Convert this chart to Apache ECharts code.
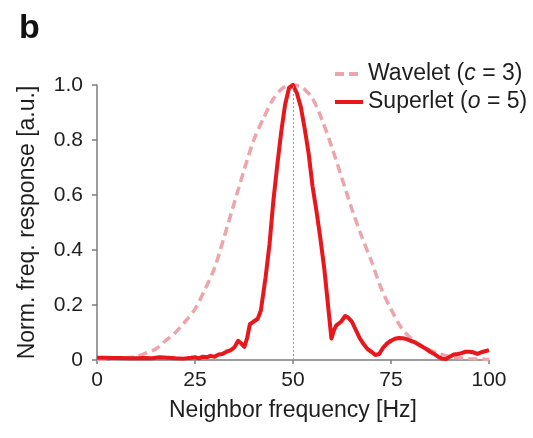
<!DOCTYPE html>
<html>
<head>
<meta charset="utf-8">
<script src="https://cdn.jsdelivr.net/npm/echarts@6/dist/echarts.min.js"></script>
<style>
  html, body { margin: 0; padding: 0; background: #fff; }
  #chart { width: 533px; height: 438px; }
</style>
</head>
<body>
<div id="chart"></div>
<script>
// Neighbor frequency (Hz) and normalised response of the wavelet (c = 3)
var waveletFreq = [0, 2.5, 5, 7.5, 10, 12.5, 15, 17.5, 20, 22.5, 25, 27.5, 30, 32.5, 35, 37.5, 40, 42.5, 45, 47.5,
                   50, 52.5, 55, 57.5, 60, 62.5, 65, 67.5, 70, 72.5, 75, 77.5, 80, 82.5, 85, 87.5, 90, 92.5, 95, 97.5, 100];
var waveletResp = [0.002, 0.003, 0.005, 0.008, 0.012, 0.025, 0.04, 0.07, 0.10, 0.14, 0.185, 0.255, 0.335, 0.45, 0.57, 0.69, 0.80, 0.88, 0.95, 0.99,
                   1.0, 0.99, 0.95, 0.87, 0.77, 0.66, 0.55, 0.45, 0.36, 0.26, 0.185, 0.12, 0.08, 0.055, 0.035, 0.022, 0.013, 0.008, 0.005, 0.003, 0.002];

// Neighbor frequency (Hz) and normalised response of the superlet (o = 5)
var superletFreq = [0, 2, 4, 6, 8, 10, 12, 14, 16, 18, 20, 22, 24, 25, 26, 27, 28, 29, 30, 31, 32, 33, 34, 35, 36, 36.8, 37.6,
                    38.3, 39, 40, 41, 41.8, 42.5, 43, 44, 45, 46, 47, 48, 49, 50, 51, 52, 53, 54, 55, 56, 57, 58, 59, 59.8,
                    60.5, 61, 61.5, 62.3, 63.3, 64, 65, 66, 67, 68, 69, 70, 71, 72, 73, 74, 75, 76, 77, 78, 79, 80, 81, 82,
                    83, 84, 85, 86, 87, 88, 89, 90, 91, 92, 93, 94, 95, 96, 97, 98, 99, 100];
var superletResp = [0.008, 0.008, 0.007, 0.007, 0.006, 0.006, 0.007, 0.006, 0.01, 0.008, 0.006, 0.005, 0.008, 0.01, 0.006, 0.012, 0.01, 0.015, 0.012, 0.02, 0.022, 0.03, 0.035, 0.045, 0.07, 0.06, 0.048,
                    0.08, 0.13, 0.14, 0.15, 0.18, 0.25, 0.30, 0.42, 0.58, 0.71, 0.83, 0.93, 0.99, 1.0, 0.97, 0.92, 0.84, 0.75, 0.63, 0.54, 0.44, 0.33, 0.19, 0.078,
                    0.11, 0.125, 0.12, 0.14, 0.16, 0.155, 0.14, 0.11, 0.08, 0.058, 0.04, 0.03, 0.018, 0.022, 0.045, 0.06, 0.07, 0.077, 0.08, 0.079, 0.076, 0.07, 0.065, 0.056,
                    0.048, 0.04, 0.03, 0.022, 0.012, 0.005, 0.004, 0.012, 0.02, 0.022, 0.025, 0.03, 0.03, 0.028, 0.022, 0.028, 0.032, 0.036];

var xTicks = [0, 25, 50, 75, 100];
var yTicks = [0, 0.2, 0.4, 0.6, 0.8, 1.0];
var centerFreq = 50;

function pairs(xs, ys) {
  return xs.map(function (x, i) { return [x, ys[i]]; });
}

var FONT = 'Liberation Sans, Arial, Helvetica, sans-serif';
var AXIS_COLOR = '#7d7d7d';
var TEXT_COLOR = '#1e1e1e';
var WAVELET_COLOR = '#eda4ad';
var SUPERLET_COLOR = '#e8171c';

var chart = echarts.init(document.getElementById('chart'), null, { renderer: 'canvas' });

chart.setOption({
  animation: false,
  backgroundColor: '#ffffff',
  title: {
    text: 'b',
    left: 14,
    top: 7,
    textStyle: { fontFamily: FONT, fontSize: 34, fontWeight: 'bold', color: '#111' }
  },
  legend: {
    orient: 'vertical',
    left: 328,
    top: 57,
    itemWidth: 28,
    itemHeight: 14,
    itemGap: 4,
    itemStyle: { opacity: 0 },
    lineStyle: { width: 4 },
    textStyle: {
      fontFamily: FONT,
      fontSize: 23,
      color: TEXT_COLOR,
      lineHeight: 24,
      rich: {
        it: { fontFamily: FONT, fontSize: 23, fontStyle: 'italic', color: TEXT_COLOR }
      }
    },
    formatter: function (name) {
      if (name === 'wavelet') return 'Wavelet ({it|c} = 3)';
      return 'Superlet ({it|o} = 5)';
    },
    data: ['wavelet', 'superlet']
  },
  grid: { left: 97, right: 44, top: 85, bottom: 78, containLabel: false },
  xAxis: {
    type: 'value',
    min: xTicks[0],
    max: xTicks[xTicks.length - 1],
    interval: 25,
    name: 'Neighbor frequency [Hz]',
    nameLocation: 'middle',
    nameGap: 39,
    nameTextStyle: { fontFamily: FONT, fontSize: 23, color: TEXT_COLOR },
    axisLine: { show: true, lineStyle: { color: AXIS_COLOR, width: 1.5 } },
    axisTick: { show: true, length: 4, lineStyle: { color: AXIS_COLOR, width: 1.5 } },
    axisLabel: { margin: 10, fontFamily: FONT, fontSize: 21, color: TEXT_COLOR },
    splitLine: { show: false }
  },
  yAxis: {
    type: 'value',
    min: yTicks[0],
    max: yTicks[yTicks.length - 1],
    interval: 0.2,
    name: 'Norm. freq. response [a.u.]',
    nameLocation: 'middle',
    nameGap: 58,
    nameTextStyle: { fontFamily: FONT, fontSize: 23, color: TEXT_COLOR },
    axisLine: { show: true, lineStyle: { color: AXIS_COLOR, width: 1.5 } },
    axisTick: { show: true, length: 5, lineStyle: { color: AXIS_COLOR, width: 1.5 } },
    axisLabel: {
      margin: 14,
      fontFamily: FONT,
      fontSize: 21,
      color: TEXT_COLOR,
      formatter: function (v) { return v === 0 ? '0' : v.toFixed(1); }
    },
    splitLine: { show: false }
  },
  series: [
    {
      name: 'wavelet',
      type: 'line',
      data: pairs(waveletFreq, waveletResp),
      smooth: 0.3,
      showSymbol: false,
      symbol: 'none',
      clip: false,
      z: 2,
      lineStyle: { color: WAVELET_COLOR, width: 3.5, type: [9, 5] },
      itemStyle: { color: WAVELET_COLOR },
      markLine: {
        silent: true,
        symbol: 'none',
        label: { show: false },
        lineStyle: { color: '#9a9a9a', width: 1, type: [2, 2] },
        data: [{ xAxis: centerFreq }]
      }
    },
    {
      name: 'superlet',
      type: 'line',
      data: pairs(superletFreq, superletResp),
      smooth: false,
      showSymbol: false,
      symbol: 'none',
      clip: false,
      z: 3,
      lineStyle: { color: SUPERLET_COLOR, width: 4, join: 'round' },
      itemStyle: { color: SUPERLET_COLOR }
    }
  ]
});
</script>
</body>
</html>
